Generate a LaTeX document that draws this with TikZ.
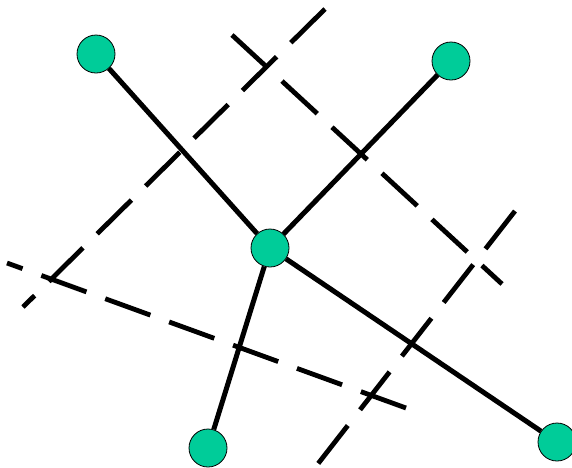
\documentclass[tikz,border=0pt]{standalone}
\begin{document}
\begin{tikzpicture}[x=1pt,y=-1pt,
  vertex/.style={circle,draw=black,line width=0.8pt,fill={rgb,255:red,0;green,204;blue,153},minimum size=38pt,inner sep=0pt},
  edge/.style={line width=5pt},
  dline/.style={line width=4.8pt,dash pattern=on 48pt off 20pt}]
\useasboundingbox (0,0) rectangle (572,467);
% dashed lines
\coordinate (a1) at (325,9);   \coordinate (a2) at (23,307);
\coordinate (b1) at (232,35);  \coordinate (b2) at (502,284);
\coordinate (c1) at (406,408); \coordinate (c2) at (7,263);
\coordinate (d1) at (515,211); \coordinate (d2) at (317,465);
\draw[dline] (a1) -- (a2);
\draw[dline] (b1) -- (b2);
\draw[dline] (c1) -- (c2);
\draw[dline] (d1) -- (d2);
% nodes
\node[vertex] (n1) at (96,54) {};
\node[vertex] (n2) at (451,61) {};
\node[vertex] (c) at (270,248) {};
\node[vertex] (n3) at (208,448) {};
\node[vertex] (n4) at (557,442) {};
\draw[edge] (c) -- (n1);
\draw[edge] (c) -- (n2);
\draw[edge] (c) -- (n3);
\draw[edge] (c) -- (n4);
\end{tikzpicture}
\end{document}
